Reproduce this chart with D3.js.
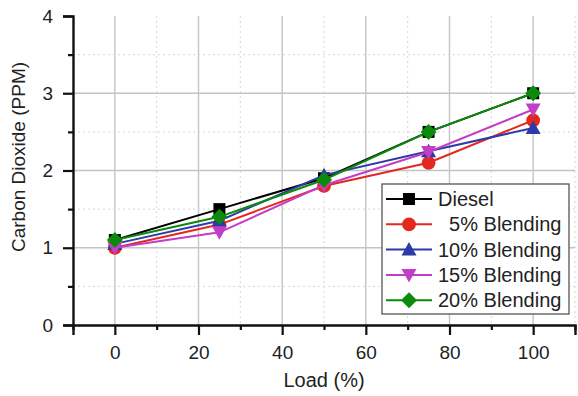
<!DOCTYPE html>
<html>
<head>
<meta charset="utf-8">
<script src="https://cdn.jsdelivr.net/npm/d3@7"></script>
<style>
  body { margin: 0; background: #fff; }
  svg { font-family: "Liberation Sans", Arial, sans-serif; }
</style>
</head>
<body>
<svg width="578" height="396"></svg>
<script>
// data
var loads = [0, 25, 50, 75, 100];
var seriesNames = ["Diesel", "  5% Blending", "10% Blending", "15% Blending", "20% Blending"];
var diesel = [1.1, 1.5, 1.9, 2.5, 3.0];
var blend5 = [1.0, 1.3, 1.8, 2.1, 2.65];
var blend10 = [1.05, 1.35, 1.94, 2.25, 2.55];
var blend15 = [1.0, 1.2, 1.81, 2.24, 2.79];
var blend20 = [1.1, 1.4, 1.88, 2.5, 3.0];
var xTicks = [0, 20, 40, 60, 80, 100];
var yTicks = [0, 1, 2, 3, 4];

var colors = ["#000000", "#e3281f", "#2d3aa8", "#c23ec6", "#0b8a0b"];
var symbols = ["square", "circle", "up", "down", "diamond"];

var svg = d3.select("svg"),
    margin = { top: 16, right: 3, bottom: 71, left: 73 },
    width = +svg.attr("width") - margin.left - margin.right,
    height = +svg.attr("height") - margin.top - margin.bottom,
    g = svg.append("g").attr("transform", "translate(" + margin.left + "," + margin.top + ")");

var x = d3.scaleLinear().domain([-10, 110]).range([0, width]);
var y = d3.scaleLinear().domain([0, 4]).range([height, 0]);

// grid
var grid = g.append("g").attr("class", "grid");
grid.selectAll(".gx").data(xTicks).enter().append("line")
    .attr("x1", d => x(d)).attr("x2", d => x(d))
    .attr("y1", 0).attr("y2", height)
    .attr("stroke", "#c4c4c4").attr("stroke-width", 1.4);
grid.selectAll(".gxm").data(d3.range(-10, 111, 20)).enter().append("line")
    .attr("x1", d => x(d)).attr("x2", d => x(d))
    .attr("y1", 0).attr("y2", height)
    .attr("stroke", "#d6d6d6").attr("stroke-dasharray", "2,3");
grid.selectAll(".gy").data([1, 2, 3]).enter().append("line")
    .attr("x1", 0).attr("x2", width)
    .attr("y1", d => y(d)).attr("y2", d => y(d))
    .attr("stroke", "#c4c4c4").attr("stroke-width", 1.4);
grid.selectAll(".gym").data([0.5, 1.5, 2.5, 3.5]).enter().append("line")
    .attr("x1", 0).attr("x2", width)
    .attr("y1", d => y(d)).attr("y2", d => y(d))
    .attr("stroke", "#d6d6d6").attr("stroke-dasharray", "2,3");

// axes
var axisX = g.append("g").attr("transform", "translate(0," + height + ")")
    .call(d3.axisBottom(x).tickValues(xTicks).tickSize(10).tickPadding(11));
var axisXm = g.append("g").attr("transform", "translate(0," + height + ")")
    .call(d3.axisBottom(x).tickValues(d3.range(-10, 111, 20)).tickSize(5).tickFormat(""));
var axisY = g.append("g")
    .call(d3.axisLeft(y).tickValues(yTicks).tickSize(10).tickPadding(10).tickFormat(d3.format("d")));
var axisYm = g.append("g")
    .call(d3.axisLeft(y).tickValues([0.5, 1.5, 2.5, 3.5]).tickSize(5).tickFormat(""));

[axisX, axisXm, axisY, axisYm].forEach(function (a) {
    a.attr("font-size", null).attr("font-family", null);
    a.select(".domain").attr("stroke", "#111").attr("stroke-width", 2.4);
    a.selectAll(".tick line").attr("stroke", "#111").attr("stroke-width", 2.2);
    a.selectAll(".tick text").style("font-size", "19px").attr("fill", "#222");
});
axisXm.select(".domain").remove();
axisYm.select(".domain").remove();

// axis titles
svg.append("text")
    .attr("x", margin.left + x(50)).attr("y", 387)
    .attr("text-anchor", "middle").style("font-size", "20px").attr("fill", "#222")
    .text("Load (%)");
svg.append("text")
    .attr("transform", "translate(25,157) rotate(-90)")
    .attr("text-anchor", "middle").style("font-size", "19px").attr("fill", "#222")
    .text("Carbon Dioxide (PPM)");

function markerPath(sym) {
    if (sym === "square") return "M-6,-6H6V6H-6Z";
    if (sym === "circle") return d3.symbol(d3.symbolCircle, 150)();
    if (sym === "up") return "M0,-7.5L7.5,6L-7.5,6Z";
    if (sym === "down") return "M0,7.5L7.5,-6L-7.5,-6Z";
    return "M0,-8L8,0L0,8L-8,0Z";
}

var allSeries = [diesel, blend5, blend10, blend15, blend20];
var line = d3.line().x((d, i) => x(loads[i])).y(d => y(d));

var lines = g.append("g").attr("class", "series");
allSeries.forEach(function (vals, k) {
    var s = lines.append("g");
    s.append("path").datum(vals)
        .attr("d", line)
        .attr("fill", "none")
        .attr("stroke", colors[k])
        .attr("stroke-width", 2);
    s.selectAll("path.pt").data(vals).enter().append("path")
        .attr("class", "pt")
        .attr("transform", (d, i) => "translate(" + x(loads[i]) + "," + y(d) + ")")
        .attr("d", markerPath(symbols[k]))
        .attr("fill", colors[k]);
});

// legend
var legend = svg.append("g").attr("transform", "translate(382,184)");
legend.append("rect")
    .attr("width", 187).attr("height", 130)
    .attr("fill", "#fff").attr("stroke", "#555").attr("stroke-width", 1.3);
var items = legend.selectAll("g.item").data(seriesNames).enter().append("g")
    .attr("class", "item")
    .attr("transform", (d, i) => "translate(0," + (15 + i * 25.3) + ")");
items.append("line")
    .attr("x1", 4).attr("x2", 50)
    .attr("stroke", (d, i) => colors[i]).attr("stroke-width", 2);
items.append("path")
    .attr("transform", "translate(27,0)")
    .attr("d", (d, i) => markerPath(symbols[i]))
    .attr("fill", (d, i) => colors[i]);
items.append("text")
    .attr("x", 56).attr("dy", "0.35em")
    .style("font-size", "20px").attr("fill", "#222")
    .style("white-space", "pre")
    .text(d => d);
</script>
</body>
</html>
